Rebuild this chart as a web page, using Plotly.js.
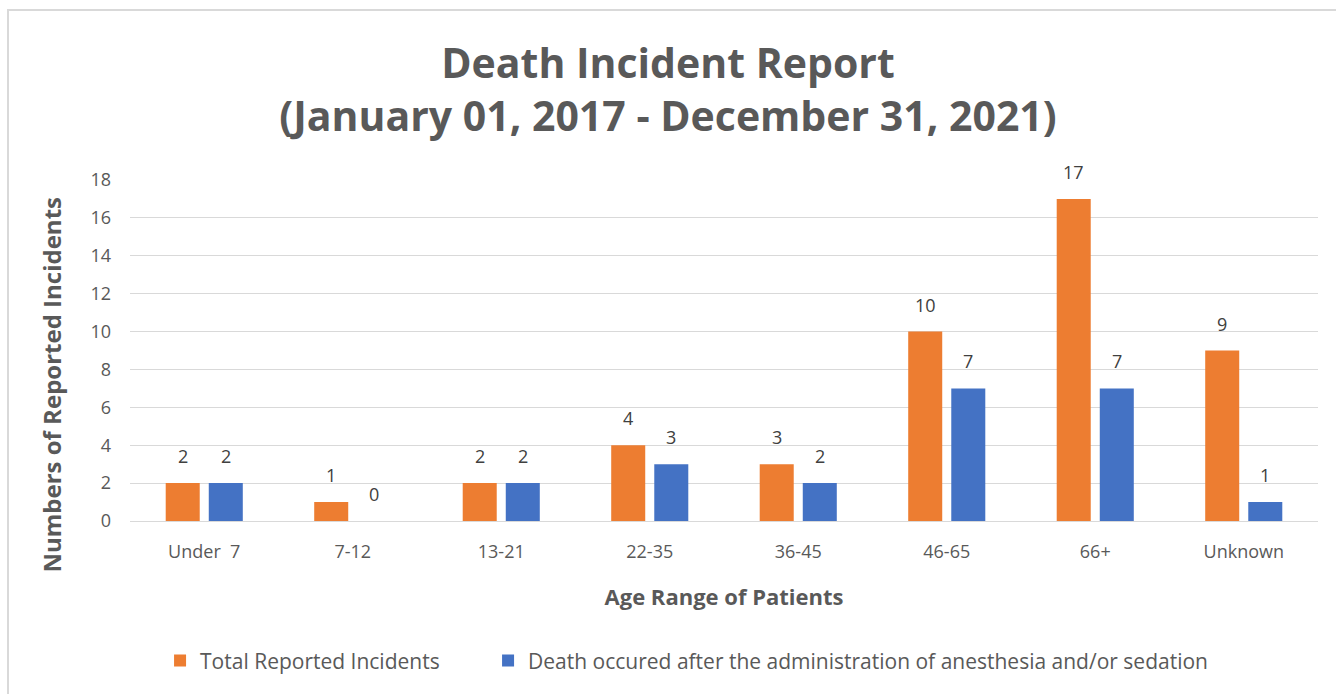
<!DOCTYPE html>
<html><head><meta charset="utf-8">
<script src="https://cdn.plot.ly/plotly-3.0.1.min.js"></script>
<style>
html,body{margin:0;padding:0;background:#fff;overflow:hidden;}
#frame{position:absolute;left:7px;top:9px;width:1340px;height:700px;border:2px solid #D9D9D9;box-sizing:border-box;}
#chart{position:absolute;left:0;top:0;width:1336px;height:694px;}
</style>
</head><body>
<div id="frame"></div>
<div id="chart"></div>
<script>
const categories = ["Under  7", "7-12", "13-21", "22-35", "36-45", "46-65", "66+", "Unknown"];
const totalReported = [2, 1, 2, 4, 3, 10, 17, 9];
const deathAfterAnesthesia = [2, 0, 2, 3, 2, 7, 7, 1];
const seriesNames = ["Total Reported Incidents", "Death occured after the administration of anesthesia and/or sedation"];
const yTicks = [0, 2, 4, 6, 8, 10, 12, 14, 16, 18];

const FONT = "Open Sans, Noto Sans, sans-serif";
const traces = [
  {type:"bar", name:seriesNames[0], x:categories, y:totalReported, offsetgroup:"a",
   marker:{color:"#ED7D31"}, legend:"legend"},
  {type:"bar", name:seriesNames[1], x:categories, y:deathAfterAnesthesia, offsetgroup:"b",
   marker:{color:"#4472C4"}, legend:"legend2"}
];

const annotations = [];
const series = [totalReported, deathAfterAnesthesia];
const BARGAP = 0.42, GROUPGAP = 0.21;
series.forEach((vals, si) => {
  const slot = (1 - BARGAP) / 2;
  const off = (si === 0 ? -0.5 : 0.5) * slot;
  vals.forEach((v, i) => {
    annotations.push({x: i + off, y: v, xref:"x", yref:"y", text:String(v), showarrow:false,
      yanchor:"middle", yshift:27, font:{family:FONT, size:18, color:"#404040"}});
  });
});
annotations.push({text:"Numbers of Reported Incidents", xref:"paper", yref:"paper",
  x:-0.0657, y:0.40, xanchor:"center", yanchor:"middle", textangle:-90, showarrow:false,
  font:{family:FONT, size:24, weight:"bold", color:"#595959"}});

const legendBase = {orientation:"h", xanchor:"left", y:-0.41, yanchor:"middle",
  font:{size:21, color:"#595959"}, itemwidth:20, bgcolor:"rgba(0,0,0,0)"};

const layout = {
  width:1336, height:694,
  paper_bgcolor:"rgba(0,0,0,0)", plot_bgcolor:"rgba(0,0,0,0)",
  margin:{l:130, r:18, t:180, b:173},
  font:{family:FONT, color:"#595959"},
  title:{text:"Death Incident Report<br>(January 01, 2017 - December 31, 2021)",
    font:{family:FONT, size:41, color:"#595959", weight:"bold"}, x:0.5, xanchor:"center", y:0.888, yanchor:"middle"},
  barmode:"group", bargap:BARGAP, bargroupgap:GROUPGAP,
  xaxis:{type:"category", tickfont:{size:18, color:"#595959"}, ticklabelstandoff:14,
    showline:true, linecolor:"#D9D9D9", linewidth:1,
    title:{text:"Age Range of Patients", font:{size:22, weight:"bold", color:"#595959"}, standoff:28}},
  yaxis:{range:[0,18], tickvals:yTicks, ticktext:yTicks.map(String), tickfont:{size:18, color:"#595959"},
    gridcolor:"#D9D9D9", gridwidth:1, zeroline:false, ticklabelstandoff:18},
  legend: Object.assign({}, legendBase, {x:0.0253}),
  legend2: Object.assign({}, legendBase, {x:0.3014}),
  annotations: annotations,
  showlegend:true
};
Plotly.newPlot("chart", traces, layout, {staticPlot:true});
</script>
</body></html>
